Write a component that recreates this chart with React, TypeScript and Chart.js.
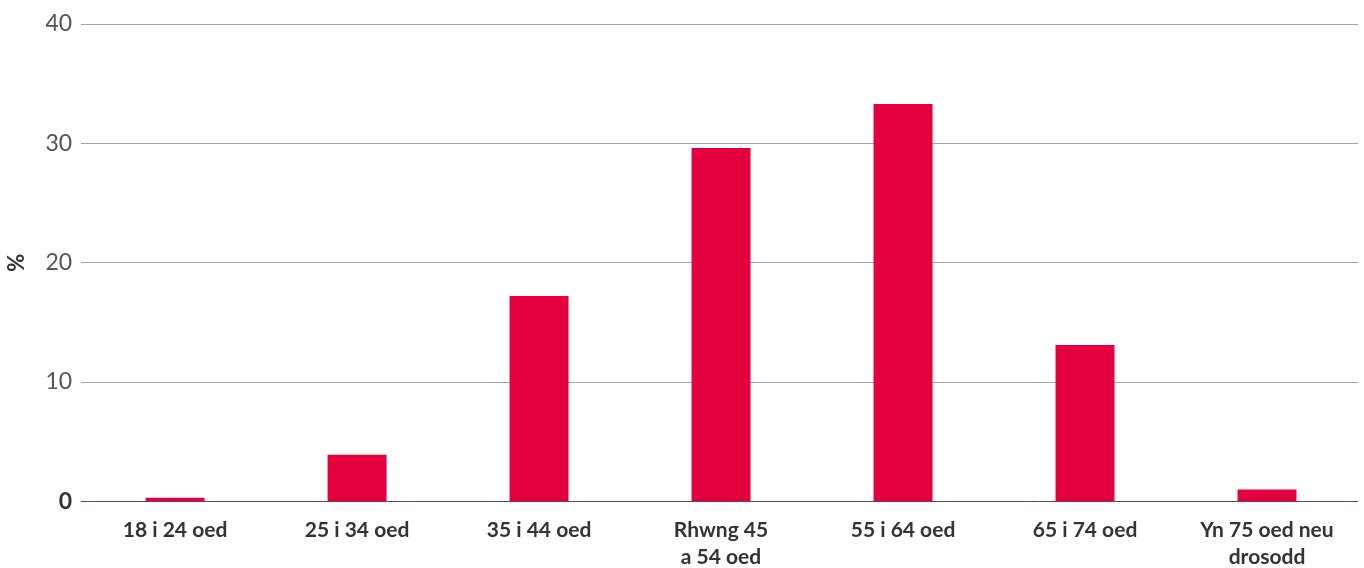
import React, { useEffect, useRef } from "react";
import { Chart, registerables } from "chart.js";

Chart.register(...registerables);

const categories: (string | string[])[] = [
  "18 i 24 oed",
  "25 i 34 oed",
  "35 i 44 oed",
  ["Rhwng 45", "a 54 oed"],
  "55 i 64 oed",
  "65 i 74 oed",
  ["Yn 75 oed neu", "drosodd"],
];
const values: number[] = [0.3, 3.9, 17.2, 29.6, 33.3, 13.1, 1.0];
const yTicks: number[] = [0, 10, 20, 30, 40];
const yTitle = "%";

export default function App() {
  const ref = useRef<HTMLCanvasElement | null>(null);
  useEffect(() => {
    document.body.style.margin = "0";
    const ctx = ref.current!;
    const chart = new Chart(ctx, {
      type: "bar",
      data: {
        labels: categories,
        datasets: [
          {
            data: values,
            backgroundColor: "#e4003f",
            borderWidth: 0,
            barPercentage: 0.324,
            categoryPercentage: 1,
          },
        ],
      },
      options: {
        animation: false,
        responsive: true,
        maintainAspectRatio: false,
        layout: { padding: { top: 24, right: 6, bottom: 6, left: 4 } },
        plugins: { legend: { display: false }, tooltip: { enabled: false } },
        scales: {
          x: {
            grid: { display: false, drawTicks: false },
            border: { display: false },
            ticks: {
              color: "#333333",
              font: { family: "Lato", size: 21, weight: "bold", lineHeight: 1.3 },
              padding: 15,
              maxRotation: 0,
              autoSkip: false,
            },
          },
          y: {
            min: 0,
            max: 40,
            afterBuildTicks: (axis: any) => {
              axis.ticks = yTicks.map((v) => ({ value: v }));
            },
            grid: {
              color: (c: any) => (c.tick && c.tick.value === 0 ? "#7b3a5a" : "#9aa5b5"),
              lineWidth: 1,
              drawTicks: true,
              tickLength: 3,
            },
            border: { display: false },
            ticks: {
              color: (c: any) => (c.tick && c.tick.value === 0 ? "#333333" : "#555555"),
              font: (c: any) => ({
                family: "Lato",
                size: 23,
                weight: c.tick && c.tick.value === 0 ? "bold" : "normal",
              }),
              padding: 9,
            },
            title: {
              display: true,
              text: yTitle,
              color: "#333333",
              font: { family: "Lato", size: 22, weight: "bold" },
              padding: { top: 0, bottom: 6 },
            },
          },
        },
      },
    });
    return () => chart.destroy();
  }, []);
  return (
    <div style={{ width: 1364, height: 568, overflow: "hidden" }}>
      <div style={{ width: 1364, height: 592, position: "relative" }}>
        <canvas ref={ref} />
      </div>
    </div>
  );
}
